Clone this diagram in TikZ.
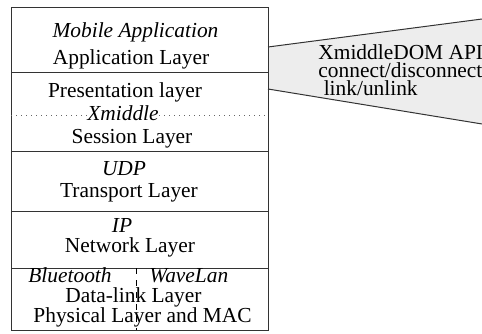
\documentclass[tikz,border=0pt]{standalone}
\usepackage{fontspec}
\setmainfont{Liberation Serif}
\begin{document}
\begin{tikzpicture}[x=0.5pt,y=-0.5pt,
  lbl/.style={inner sep=0pt,anchor=base,font=\fontsize{10.7}{12}\selectfont},
  ilbl/.style={lbl,font=\fontsize{10.7}{12}\selectfont\itshape},
  boxline/.style={draw=black!80,line width=0.5pt}]
\useasboundingbox (0,0) rectangle (482,333);
% API trapezoid
\fill[black!7] (495,17.3) -- (268,47) -- (268,89) -- (495,126.1) -- cycle;
\draw[boxline] (495,17.3) -- (268,47);
\draw[boxline] (268,89) -- (495,126.1);
% layer stack
\draw[boxline] (11,7) rectangle (268,330);
\draw[boxline] (11,72.7) -- (268,72.7);
\draw[boxline] (11,151) -- (268,151);
\draw[boxline] (11,211) -- (268,211);
\draw[boxline] (11,268) -- (268,268);
\draw[black!60,line width=0.5pt,dotted] (11,115) -- (87,115);
\draw[black!60,line width=0.5pt,dotted] (159,115) -- (268,115);
\draw[black,line width=0.5pt,dashed] (136,268) -- (136,330);
% texts
\node[ilbl] (mob) at (135.5,37) {Mobile Application};
\node[lbl] (app) at (131,64) {Application Layer};
\node[lbl] (pres) at (125,97) {Presentation layer};
\node[ilbl] (xm) at (123,120) {Xmiddle};
\node[lbl] (ses) at (132,143) {Session Layer};
\node[ilbl] (udp) at (124,175) {UDP};
\node[lbl] (tra) at (129,197) {Transport Layer};
\node[ilbl] (ip) at (122,232) {IP};
\node[lbl] (net) at (130,252) {Network Layer};
\node[ilbl,anchor=base west] (bt) at (28,282) {Bluetooth};
\node[ilbl,anchor=base west] (wl) at (149,282) {WaveLan};
\node[lbl] (dl) at (133.5,302) {Data-link Layer};
\node[lbl] (phy) at (142.5,322) {Physical Layer and MAC};
\node[lbl,anchor=base west] (api) at (318,59) {XmiddleDOM API};
\node[lbl,anchor=base west] (con) at (318,77) {connect/disconnect};
\node[lbl,anchor=base west] (lnk) at (318,95) {\ link/unlink};
\end{tikzpicture}
\end{document}
